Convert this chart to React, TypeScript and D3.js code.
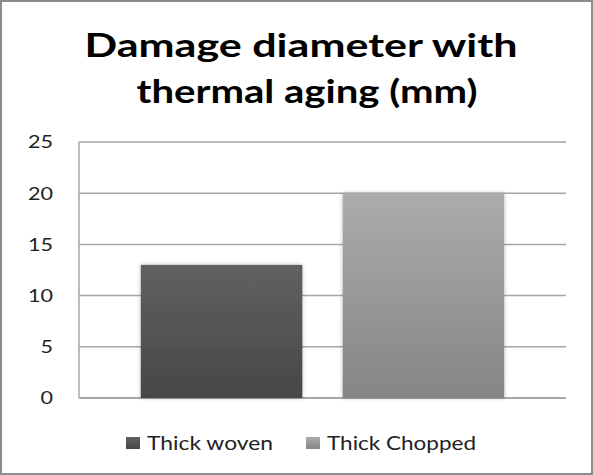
import React from "react";
import * as d3 from "d3";

const W = 593;
const H = 475;

const titleLines = ["Damage diameter with", "thermal aging (mm)"];
const categories = ["Thermal aging"];
const series = ["Thick woven", "Thick Chopped"];
const values = [13, 20];
const yTicks = [0, 5, 10, 15, 20, 25];
const gradients = [
  ["#616161", "#474747"],
  ["#acacac", "#858585"],
];

const FONT = "Lato, 'Open Sans', sans-serif";

// the original text is stretched sideways, so widths are forced per line
const titleWidths = [433, 341];
const titleX = [301, 307];
const legendWidths = [126, 149];
const legendX = [126, 306];

export default function App() {
  const plot = { left: 79, right: 566, top: 142, bottom: 398 };

  const y = d3.scaleLinear().domain([0, 25]).range([plot.bottom, plot.top]);
  const x0 = d3
    .scaleBand()
    .domain(categories)
    .range([plot.left, plot.right])
    .paddingInner(0)
    .paddingOuter(0.17);
  const x1 = d3
    .scaleBand()
    .domain(series)
    .range([0, x0.bandwidth()])
    .paddingInner(0.2)
    .paddingOuter(0);

  return (
    <svg
      width={W}
      height={H}
      style={{ position: "absolute", left: 0, top: 0, background: "#fff" }}
    >
      <defs>
        {gradients.map((g, i) => (
          <linearGradient key={i} id={`grad${i}`} x1="0" y1="0" x2="0" y2="1">
            <stop offset="0%" stopColor={g[0]} />
            <stop offset="100%" stopColor={g[1]} />
          </linearGradient>
        ))}
        <filter id="shadow" x="-10%" y="-10%" width="120%" height="120%">
          <feDropShadow dx="0" dy="0" stdDeviation="2" floodColor="#000" floodOpacity="0.25" />
        </filter>
      </defs>

      {/* outer frame */}
      <rect x={1} y={1} width={W - 2} height={H - 2} fill="#fff" stroke="#8c8c8c" strokeWidth={2} />

      {/* title */}
      {titleLines.map((t, i) => (
        <text
          key={i}
          x={titleX[i]}
          y={57 + i * 46}
          textAnchor="middle"
          fontFamily={FONT}
          fontWeight={700}
          fontSize={33}
          fill="#000"
          textLength={titleWidths[i]}
          lengthAdjust="spacingAndGlyphs"
        >
          {t}
        </text>
      ))}

      {/* gridlines */}
      {yTicks.map((t) => (
        <line
          key={t}
          x1={plot.left}
          x2={plot.right}
          y1={y(t)}
          y2={y(t)}
          stroke={t === 0 ? "#8a8a8a" : "#a6a6a6"}
          strokeWidth={1.5}
        />
      ))}
      <line x1={plot.left} x2={plot.left} y1={plot.top} y2={plot.bottom} stroke="#a6a6a6" strokeWidth={1.5} />

      {/* tick labels */}
      {yTicks.map((t) => (
        <text
          key={t}
          x={53}
          y={y(t)}
          dy="0.36em"
          textAnchor="end"
          fontFamily={FONT}
          fontSize={17.5}
          fill="#222"
          textLength={String(t).length * 12.5}
          lengthAdjust="spacingAndGlyphs"
        >
          {t}
        </text>
      ))}

      {/* bars */}
      {categories.map((c) => (
        <g key={c} transform={`translate(${x0(c)},0)`}>
          {series.map((s, i) => (
            <rect
              key={s}
              x={x1(s)}
              y={y(values[i])}
              width={x1.bandwidth()}
              height={y(0) - y(values[i])}
              fill={`url(#grad${i})`}
              filter="url(#shadow)"
            />
          ))}
        </g>
      ))}

      {/* legend */}
      {series.map((s, i) => (
        <g key={s} transform={`translate(${legendX[i]},437)`}>
          <rect width={14} height={12} fill={`url(#grad${i})`} />
          <text
            x={21}
            y={13}
            fontFamily={FONT}
            fontSize={19}
            fill="#222"
            textLength={legendWidths[i]}
            lengthAdjust="spacingAndGlyphs"
          >
            {s}
          </text>
        </g>
      ))}
    </svg>
  );
}
